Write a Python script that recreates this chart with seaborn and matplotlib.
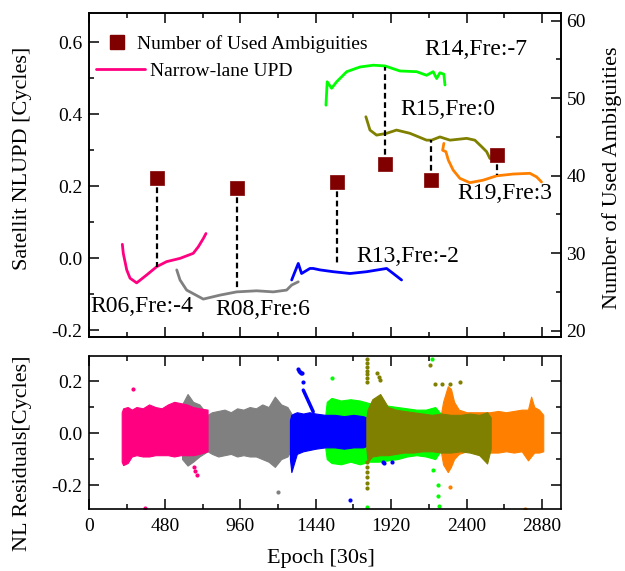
import matplotlib
matplotlib.use("Agg")
import numpy as np
import pandas as pd
import matplotlib.pyplot as plt
from matplotlib.lines import Line2D
from matplotlib.ticker import MultipleLocator, FormatStrFormatter
import seaborn as sns

# ---------------- narrow-lane UPD series (epoch, cycles) ----------------
r06_epoch = [210, 216, 238, 259, 301, 365, 429, 492, 577, 661, 693, 725, 742]
r06_upd = [0.039, 0.014, -0.032, -0.055, -0.068, -0.046, -0.023, -0.009, 0.0, 0.014, 0.032, 0.055, 0.069]

r08_epoch = [556, 577, 619, 725, 831, 937, 1064, 1170, 1255, 1287, 1329]
r08_upd = [-0.032, -0.060, -0.088, -0.113, -0.102, -0.093, -0.090, -0.093, -0.088, -0.074, -0.065]

r13_epoch = [1287, 1329, 1350, 1403, 1424, 1467, 1551, 1658, 1764, 1891, 1933, 1986]
r13_upd = [-0.060, -0.014, -0.042, -0.028, -0.028, -0.032, -0.037, -0.042, -0.037, -0.028, -0.042, -0.060]

r14_epoch = [1505, 1513, 1541, 1573, 1637, 1721, 1806, 1880, 1975, 2082, 2145, 2187, 2209, 2230, 2255, 2262]
r14_upd = [0.425, 0.490, 0.472, 0.490, 0.518, 0.531, 0.536, 0.534, 0.520, 0.518, 0.508, 0.518, 0.499, 0.515, 0.511, 0.481]

r15_epoch = [1759, 1785, 1827, 1891, 1954, 2039, 2145, 2177, 2230, 2294, 2400, 2452, 2495, 2527, 2548]
r15_upd = [0.393, 0.356, 0.342, 0.347, 0.356, 0.347, 0.328, 0.328, 0.337, 0.328, 0.333, 0.328, 0.310, 0.296, 0.277]

r19_epoch = [2255, 2247, 2268, 2283, 2314, 2357, 2420, 2505, 2590, 2696, 2802, 2845, 2876]
r19_upd = [0.319, 0.300, 0.296, 0.273, 0.245, 0.222, 0.210, 0.217, 0.229, 0.234, 0.236, 0.226, 0.212]

sat_names = ["R06", "R08", "R13", "R14", "R15", "R19"]
sat_labels = ["R06,Fre:-4", "R08,Fre:6", "R13,Fre:-2", "R14,Fre:-7", "R15,Fre:0", "R19,Fre:3"]

# ---------------- number of used ambiguities ----------------
amb_epoch = [430, 941, 1577, 1882, 2175, 2590]
amb_count = [39.7, 38.4, 39.2, 41.5, 39.5, 42.7]
amb_link_upd = [-0.025, -0.088, -0.014, 0.531, 0.328, 0.231]

# ---------------- NL residual envelopes (epoch, upper, lower) ----------------
res_r08_epoch = [590, 625, 660, 700, 752, 780, 820, 860, 900, 940, 980, 1020, 1060, 1100, 1140, 1180, 1220, 1260, 1290]
res_r08_upper = [0.11, 0.15, 0.12, 0.11, 0.07, 0.08, 0.085, 0.09, 0.08, 0.095, 0.09, 0.10, 0.095, 0.11, 0.10, 0.14, 0.11, 0.10, 0.07]
res_r08_lower = [-0.10, -0.125, -0.11, -0.09, -0.07, -0.08, -0.09, -0.085, -0.08, -0.09, -0.085, -0.09, -0.09, -0.10, -0.11, -0.13, -0.10, -0.09, -0.06]

res_r06_epoch = [206, 215, 244, 270, 300, 340, 380, 420, 460, 500, 540, 580, 620, 660, 700, 752]
res_r06_upper = [0.08, 0.095, 0.10, 0.09, 0.10, 0.095, 0.11, 0.10, 0.095, 0.11, 0.12, 0.115, 0.11, 0.10, 0.095, 0.09]
res_r06_lower = [-0.11, -0.123, -0.115, -0.09, -0.085, -0.09, -0.09, -0.085, -0.085, -0.085, -0.09, -0.085, -0.085, -0.085, -0.08, -0.07]

res_r14_epoch = [1499, 1510, 1540, 1600, 1660, 1720, 1780, 1840, 1900, 1960, 2020, 2080, 2140, 2200, 2255]
res_r14_upper = [0.06, 0.12, 0.135, 0.125, 0.13, 0.125, 0.115, 0.11, 0.105, 0.10, 0.095, 0.09, 0.09, 0.10, 0.06]
res_r14_lower = [-0.05, -0.10, -0.115, -0.12, -0.11, -0.12, -0.11, -0.11, -0.105, -0.10, -0.09, -0.085, -0.09, -0.10, -0.05]

res_r19_epoch = [2230, 2250, 2280, 2300, 2320, 2350, 2400, 2450, 2500, 2548, 2600, 2650, 2700, 2750, 2790, 2810, 2830, 2860, 2887]
res_r19_upper = [0.05, 0.12, 0.18, 0.17, 0.12, 0.09, 0.08, 0.08, 0.08, 0.08, 0.085, 0.08, 0.085, 0.09, 0.09, 0.14, 0.10, 0.09, 0.07]
res_r19_lower = [-0.05, -0.12, -0.15, -0.13, -0.10, -0.08, -0.07, -0.07, -0.07, -0.075, -0.075, -0.07, -0.075, -0.07, -0.105, -0.09, -0.075, -0.075, -0.07]

res_r13_epoch = [1276, 1285, 1300, 1320, 1360, 1400, 1440, 1500, 1560, 1620, 1680, 1740, 1764]
res_r13_upper = [0.05, 0.07, 0.075, 0.08, 0.075, 0.08, 0.075, 0.07, 0.07, 0.065, 0.07, 0.065, 0.06]
res_r13_lower = [-0.10, -0.15, -0.12, -0.08, -0.07, -0.065, -0.06, -0.055, -0.055, -0.06, -0.055, -0.055, -0.05]

res_r15_epoch = [1762, 1770, 1800, 1850, 1900, 1950, 2000, 2060, 2120, 2180, 2240, 2300, 2360, 2420, 2480, 2530, 2553]
res_r15_upper = [0.06, 0.09, 0.13, 0.15, 0.10, 0.09, 0.085, 0.08, 0.075, 0.07, 0.075, 0.07, 0.07, 0.075, 0.07, 0.08, 0.06]
res_r15_lower = [-0.06, -0.11, -0.09, -0.085, -0.085, -0.08, -0.075, -0.075, -0.07, -0.07, -0.075, -0.075, -0.07, -0.075, -0.085, -0.117, -0.06]

# isolated residual points
out_r06_epoch = [275, 668, 675, 682, 356]
out_r06_res = [0.168, -0.13, -0.145, -0.16, -0.287]
out_r08_epoch = [1201]
out_r08_res = [-0.225]
out_r13_epoch = [1329, 1335, 1340, 1345, 1350, 1361, 1658, 1869, 1875, 1925]
out_r13_res = [0.246, 0.240, 0.235, 0.232, 0.230, 0.197, -0.258, -0.110, -0.115, -0.113]
out_r14_epoch = [1541, 2177, 2187, 2219, 2220, 2221, 1764]
out_r14_res = [0.213, 0.285, -0.142, -0.20, -0.24, -0.28, -0.283]
out_r15_epoch = [1765, 1765, 1765, 1765, 1765, 1765, 1765, 1766, 1766, 1766, 1766, 1766, 1766,
                 1830, 1840, 1850, 2166, 2198, 2240, 2293, 2357]
out_r15_res = [0.285, 0.270, 0.255, 0.240, 0.225, 0.210, 0.196, -0.11, -0.13, -0.15, -0.17, -0.19, -0.21,
               0.230, 0.215, 0.203, 0.262, 0.187, 0.190, 0.187, 0.197]
out_r19_epoch = [2293, 2770]
out_r19_res = [-0.206, -0.29]

# streak of R13 residuals after its spike
streak_r13_epoch = [1361, 1424]
streak_r13_res = [0.165, 0.082]

sat_colors = {"R06": "#FF0080", "R08": "#808080", "R13": "#0000FF",
              "R14": "#00FF00", "R15": "#808000", "R19": "#FF8000"}
amb_color = "#800000"

# ---------------- style ----------------
sns.set_theme(style="ticks")
plt.rcParams["font.family"] = ["Liberation Serif", "DejaVu Serif"]
plt.rcParams["axes.unicode_minus"] = False
plt.rcParams["axes.linewidth"] = 1.2
plt.rcParams["text.color"] = "black"
plt.rcParams["axes.labelcolor"] = "black"
plt.rcParams["xtick.color"] = "black"
plt.rcParams["ytick.color"] = "black"

TICK = 14
LABEL = 16

fig = plt.figure(figsize=(6.25, 5.71), dpi=100)
ax = fig.add_axes([0.1429, 0.4093, 0.7547, 0.5674])
axr = ax.twinx()
axb = fig.add_axes([0.1429, 0.108, 0.7547, 0.2685])

XLIM = (0, 3000)
TOP_L = (-0.219, 0.68)
TOP_R = (19.15, 60.95)

# UPD curves
upd_series = [(r06_epoch, r06_upd), (r08_epoch, r08_upd), (r13_epoch, r13_upd),
              (r14_epoch, r14_upd), (r15_epoch, r15_upd), (r19_epoch, r19_upd)]
for name, (ep, val) in zip(sat_names, upd_series):
    df = pd.DataFrame({"epoch": ep, "upd": val})
    sns.lineplot(data=df, x="epoch", y="upd", sort=False, estimator=None,
                 color=sat_colors[name], lw=2.0, ax=ax, legend=False)

# satellite annotations
label_pos = [(5, -0.149), (800, -0.157), (1700, -0.009),
             (2134, 0.564), (1976, 0.398), (2340, 0.164)]
for text, (xx, yy) in zip(sat_labels, label_pos):
    ax.text(xx, yy, text, fontsize=17, ha="left", va="baseline", color="black")


def upd_to_count(v):
    return TOP_R[0] + (v - TOP_L[0]) * (TOP_R[1] - TOP_R[0]) / (TOP_L[1] - TOP_L[0])


# dashed links between ambiguity count and UPD curve
for ep, cnt, link in zip(amb_epoch, amb_count, amb_link_upd):
    axr.plot([ep, ep], [cnt, upd_to_count(link)], color="black", lw=1.6,
             linestyle=(0, (2.6, 1.6)), zorder=2)

amb_df = pd.DataFrame({"epoch": amb_epoch, "count": amb_count})
sns.scatterplot(data=amb_df, x="epoch", y="count", marker="s", s=95,
                color=amb_color, edgecolor=amb_color, linewidth=0.5,
                ax=axr, legend=False, zorder=3)

ax.set_xlim(*XLIM)
ax.set_ylim(*TOP_L)
axr.set_ylim(*TOP_R)
ax.set_xlabel("")
axr.set_xlabel("")
ax.set_ylabel("Satellit NLUPD [Cycles]", fontsize=LABEL, color="black")
axr.set_ylabel("Number of Used Ambiguities", fontsize=LABEL, color="black")
ax.yaxis.set_label_coords(-0.121, 0.553)
axr.yaxis.set_label_coords(1.087, 0.492)

ax.xaxis.set_major_locator(MultipleLocator(480))
ax.xaxis.set_minor_locator(MultipleLocator(240))
ax.yaxis.set_major_locator(MultipleLocator(0.2))
ax.yaxis.set_minor_locator(MultipleLocator(0.1))
ax.yaxis.set_major_formatter(FormatStrFormatter("%.1f"))
axr.yaxis.set_major_locator(MultipleLocator(10))
axr.yaxis.set_minor_locator(MultipleLocator(5))
ax.tick_params(axis="x", which="both", labelbottom=False, top=True, bottom=True)
ax.tick_params(axis="y", which="both", left=True, right=False)
axr.tick_params(axis="y", which="both", right=True, left=False)

# legends
h_amb = Line2D([], [], marker="s", color=amb_color, linestyle="none", markersize=9.5)
h_upd = Line2D([], [], color=sat_colors["R06"], lw=2.0)
leg1 = fig.legend([h_amb], ["Number of Used Ambiguities"], loc="center left",
                  bbox_to_anchor=(107 / 625, 1 - 44 / 571), frameon=False,
                  fontsize=14, handlelength=1.0, handletextpad=0.55,
                  borderpad=0, borderaxespad=0, labelcolor="black")
leg2 = fig.legend([h_upd], ["Narrow-lane UPD"], loc="center left",
                  bbox_to_anchor=(96 / 625, 1 - 71 / 571), frameon=False,
                  fontsize=14, handlelength=2.5, handletextpad=0.3,
                  borderpad=0, borderaxespad=0, labelcolor="black")

# ---------------- residual panel ----------------
res_series = [
    ("R08", res_r08_epoch, res_r08_upper, res_r08_lower),
    ("R06", res_r06_epoch, res_r06_upper, res_r06_lower),
    ("R14", res_r14_epoch, res_r14_upper, res_r14_lower),
    ("R19", res_r19_epoch, res_r19_upper, res_r19_lower),
    ("R13", res_r13_epoch, res_r13_upper, res_r13_lower),
    ("R15", res_r15_epoch, res_r15_upper, res_r15_lower),
]
for name, ep, up, lo in res_series:
    axb.fill_between(ep, lo, up, color=sat_colors[name], linewidth=0.8,
                     edgecolor=sat_colors[name])

outliers = [("R06", out_r06_epoch, out_r06_res), ("R08", out_r08_epoch, out_r08_res),
            ("R13", out_r13_epoch, out_r13_res), ("R14", out_r14_epoch, out_r14_res),
            ("R15", out_r15_epoch, out_r15_res), ("R19", out_r19_epoch, out_r19_res)]
for name, ep, rv in outliers:
    sns.scatterplot(x=ep, y=rv, color=sat_colors[name], s=9, linewidth=0,
                    ax=axb, legend=False)
axb.plot(streak_r13_epoch, streak_r13_res, color=sat_colors["R13"], lw=2.5,
         solid_capstyle="round")

axb.set_xlim(*XLIM)
axb.set_ylim(-0.293, 0.296)
axb.xaxis.set_major_locator(MultipleLocator(480))
axb.xaxis.set_minor_locator(MultipleLocator(240))
axb.yaxis.set_major_locator(MultipleLocator(0.2))
axb.yaxis.set_minor_locator(MultipleLocator(0.1))
axb.yaxis.set_major_formatter(FormatStrFormatter("%.1f"))
axb.tick_params(which="both", top=True, right=True)
axb.set_xlabel("Epoch [30s]", fontsize=LABEL, color="black")
axb.set_ylabel("NL Residuals[Cycles]", fontsize=LABEL, color="black")
axb.yaxis.set_label_coords(-0.121, 0.367)
axb.xaxis.set_label_coords(0.491, -0.258)

for a in (ax, axr, axb):
    a.tick_params(which="both", direction="in", width=1.1, labelsize=TICK,
                  colors="black", labelcolor="black")
    a.tick_params(which="major", length=7)
    a.tick_params(which="minor", length=3.8)
    for sp in a.spines.values():
        sp.set_visible(True)
        sp.set_linewidth(1.2)
        sp.set_color("black")
ax.tick_params(axis="y", pad=5)
axb.tick_params(axis="y", pad=5)
axb.tick_params(axis="x", pad=6)
axr.tick_params(axis="y", pad=4)

fig.savefig("out.png", dpi=100)
